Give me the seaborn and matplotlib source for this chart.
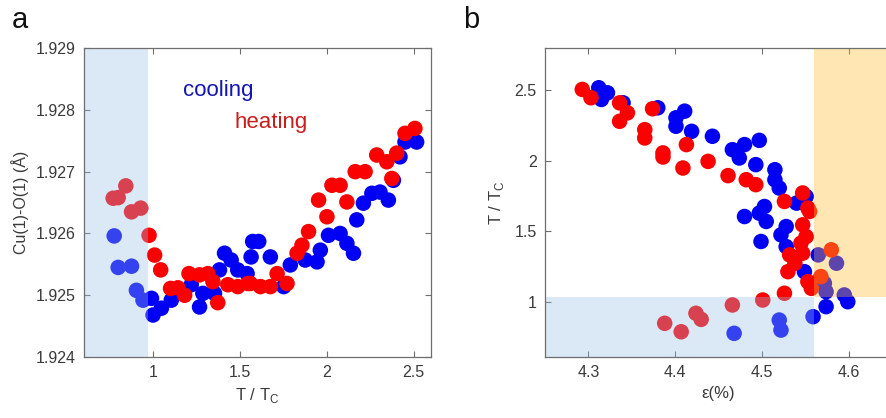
import numpy as np
import pandas as pd
import seaborn as sns
import matplotlib.pyplot as plt

# panel a: Cu(1)-O(1) bond length vs T/Tc
a_cool_t = [0.774, 0.797, 0.874, 0.902, 0.940, 0.989, 0.998, 1.046, 1.103, 1.218,
            1.266, 1.285, 1.352, 1.381, 1.410, 1.448, 1.486, 1.540, 1.563, 1.572,
            1.607, 1.674, 1.751, 1.789, 1.875, 1.943, 1.962, 2.009, 2.076, 2.115,
            2.153, 2.172, 2.210, 2.259, 2.306, 2.354, 2.383, 2.421, 2.450, 2.517]
a_cool_d = [1.92596, 1.92545, 1.92547, 1.92508, 1.92492, 1.92495, 1.92468, 1.92479, 1.92492, 1.92517,
            1.92481, 1.92503, 1.92503, 1.92541, 1.92568, 1.92557, 1.92541, 1.92535, 1.92562, 1.92587,
            1.92587, 1.92562, 1.92514, 1.92549, 1.92557, 1.92554, 1.92573, 1.92597, 1.92600, 1.92584,
            1.92568, 1.92622, 1.92649, 1.92665, 1.92667, 1.92654, 1.92686, 1.92724, 1.92748, 1.92748]
a_heat_t = [0.841, 0.768, 0.797, 0.874, 0.927, 0.975, 1.007, 1.042, 1.099, 1.141,
            1.180, 1.205, 1.266, 1.314, 1.343, 1.371, 1.429, 1.486, 1.544, 1.559,
            1.617, 1.674, 1.713, 1.770, 1.828, 1.856, 1.894, 1.952, 2.000, 2.029,
            2.076, 2.115, 2.163, 2.220, 2.287, 2.345, 2.374, 2.402, 2.450, 2.507]
a_heat_d = [1.92677, 1.92657, 1.92658, 1.92635, 1.92641, 1.92597, 1.92565, 1.92541, 1.92511, 1.92512,
            1.92500, 1.92535, 1.92533, 1.92535, 1.92522, 1.92488, 1.92517, 1.92514, 1.92519, 1.92519,
            1.92514, 1.92514, 1.92535, 1.92519, 1.92568, 1.92581, 1.92603, 1.92654, 1.92627, 1.92678,
            1.92678, 1.92651, 1.92700, 1.92700, 1.92727, 1.92716, 1.92689, 1.92730, 1.92762, 1.92770]

# panel b: T/Tc vs strain
b_cool_e = [4.312, 4.322, 4.315, 4.340, 4.380, 4.401, 4.411, 4.401, 4.419, 4.443,
            4.466, 4.480, 4.497, 4.474, 4.493, 4.515, 4.515, 4.520, 4.503, 4.480,
            4.497, 4.505, 4.528, 4.522, 4.499, 4.528, 4.551, 4.540, 4.549, 4.572,
            4.565, 4.586, 4.574, 4.595, 4.599, 4.574, 4.559, 4.520, 4.522, 4.468]
b_cool_t = [2.519, 2.483, 2.436, 2.412, 2.377, 2.306, 2.353, 2.246, 2.210, 2.175,
            2.080, 2.116, 2.146, 2.021, 1.974, 1.938, 1.867, 1.808, 1.677, 1.606,
            1.630, 1.571, 1.535, 1.476, 1.429, 1.393, 1.748, 1.701, 1.215, 1.133,
            1.334, 1.275, 1.073, 1.050, 1.002, 0.967, 0.896, 0.872, 0.801, 0.778]
b_heat_e = [4.293, 4.303, 4.336, 4.345, 4.336, 4.374, 4.365, 4.365, 4.386, 4.386,
            4.409, 4.413, 4.438, 4.461, 4.482, 4.493, 4.526, 4.547, 4.553, 4.555,
            4.547, 4.551, 4.545, 4.532, 4.530, 4.547, 4.538, 4.553, 4.557, 4.580,
            4.568, 4.526, 4.501, 4.466, 4.388, 4.407, 4.424, 4.430]
b_heat_t = [2.507, 2.448, 2.412, 2.341, 2.281, 2.370, 2.222, 2.163, 2.057, 2.028,
            1.950, 2.116, 1.997, 1.896, 1.867, 1.832, 1.713, 1.773, 1.666, 1.642,
            1.547, 1.464, 1.417, 1.334, 1.215, 1.346, 1.275, 1.144, 1.097, 1.370,
            1.180, 1.062, 1.014, 0.979, 0.849, 0.789, 0.920, 0.877]

blue = '#0000f5'
red = '#fa0000'
palette = {'cooling': blue, 'heating': red}

df_a = pd.concat([
    pd.DataFrame({'t': a_cool_t, 'd': a_cool_d, 'run': 'cooling'}),
    pd.DataFrame({'t': a_heat_t, 'd': a_heat_d, 'run': 'heating'}),
], ignore_index=True)
df_b = pd.concat([
    pd.DataFrame({'e': b_cool_e, 't': b_cool_t, 'run': 'cooling'}),
    pd.DataFrame({'e': b_heat_e, 't': b_heat_t, 'run': 'heating'}),
], ignore_index=True)

sns.set_style('white')
plt.rcParams['font.family'] = ['Liberation Sans', 'DejaVu Sans']
plt.rcParams['xtick.direction'] = 'in'
plt.rcParams['ytick.direction'] = 'in'

spine_col = '#6e6e6e'
txt_col = '#3a3a3a'

fig = plt.figure(figsize=(8.86, 4.18), dpi=100)
ax1 = fig.add_axes([0.0948, 0.1459, 0.3917, 0.739])
ax2 = fig.add_axes([0.6151, 0.1459, 0.3917, 0.739])

sns.scatterplot(data=df_a, x='t', y='d', hue='run', palette=palette, s=125,
                linewidth=0, legend=False, ax=ax1)
sns.scatterplot(data=df_b, x='e', y='t', hue='run', palette=palette, s=125,
                linewidth=0, legend=False, ax=ax2)

# shaded regions, drawn over the points
ax1.axvspan(0.6, 0.97, color=(0.6, 0.75, 0.9), alpha=0.35, lw=0, zorder=3)
ax2.fill_between([4.25, 4.56], 0.61, 1.035, color=(0.6, 0.75, 0.9), alpha=0.35, lw=0, zorder=3)
ax2.fill_between([4.56, 4.65], 1.035, 2.8, color=(1.0, 0.74, 0.2), alpha=0.37, lw=0, zorder=3)

ax1.set_xlim(0.6, 2.6)
ax1.set_ylim(1.924, 1.929)
ax1.set_xticks([1, 1.5, 2, 2.5])
ax1.set_xticklabels(['1', '1.5', '2', '2.5'])
ax1.set_yticks([1.924, 1.925, 1.926, 1.927, 1.928, 1.929])
ax1.set_yticklabels(['1.924', '1.925', '1.926', '1.927', '1.928', '1.929'])
ax1.set_xlabel('T / T$_\\mathregular{C}$', fontsize=12, color=txt_col, labelpad=4)
ax1.set_ylabel('Cu(1)-O(1) (Å)', fontsize=11.5, color=txt_col, labelpad=5)

ax2.set_xlim(4.25, 4.65)
ax2.set_ylim(0.61, 2.8)
ax2.set_xticks([4.3, 4.4, 4.5, 4.6])
ax2.set_xticklabels(['4.3', '4.4', '4.5', '4.6'])
ax2.set_yticks([1, 1.5, 2, 2.5])
ax2.set_yticklabels(['1', '1.5', '2', '2.5'])
ax2.set_xlabel('ε(%)', fontsize=12, color=txt_col, labelpad=4)
ax2.set_ylabel('T / T$_\\mathregular{C}$', fontsize=12, color=txt_col, labelpad=6)

for ax in (ax1, ax2):
    for sp in ax.spines.values():
        sp.set_color(spine_col)
        sp.set_linewidth(0.9)
        sp.set_zorder(4)
    ax.tick_params(which='both', direction='in', length=4, width=0.8, color=spine_col,
                   labelcolor=txt_col, labelsize=11.5, pad=6,
                   top=True, right=True, bottom=True, left=True)

ax1.text(1.375, 1.92832, 'cooling', color='#1414b4', fontsize=16, ha='center', va='center')
ax1.text(1.68, 1.92779, 'heating', color='#c81e1e', fontsize=16, ha='center', va='center')

fig.text(0.013, 0.952, 'a', fontsize=21, color='#111111', va='center', ha='left')
fig.text(0.523, 0.952, 'b', fontsize=21, color='#111111', va='center', ha='left')

fig.savefig('out.png', dpi=100)
